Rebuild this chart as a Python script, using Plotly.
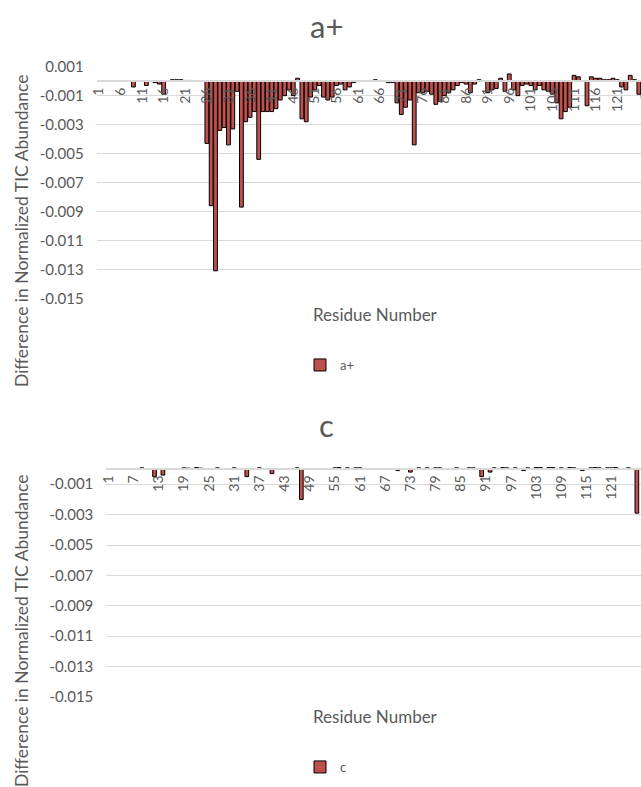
import plotly.graph_objects as go

# ---- data -------------------------------------------------------------
residues = list(range(1, 128))

# a+ ions: difference in normalized TIC abundance per residue (0 = no change)
a_plus = [
    0, 0, 0, 0, 0, 0, 0, 0, -0.0004, 0,                                   # 1-10
    0, -0.0003, 0, -0.0001, -0.0002, -0.0009, 0, 0.0001, 0.0001, 0.0001,   # 11-20
    0.00005, 0.00005, 0.00003, 0.00003, 0, -0.0043, -0.0086, -0.0131, -0.0034, -0.0032,  # 21-30
    -0.0044, -0.0033, -0.0007, -0.0087, -0.0028, -0.0025, -0.0021, -0.0054, -0.0021, -0.0021,  # 31-40
    -0.0021, -0.0019, -0.0013, -0.0010, -0.0006, -0.0010, 0.0002, -0.0026, -0.0028, -0.0011,  # 41-50
    -0.0006, -0.0003, -0.0011, -0.0013, -0.0011, -0.0003, -0.0002, -0.0006, -0.0004, -0.0001,  # 51-60
    0, 0, 0, 0, 0.0001, 0, 0, -0.0001, -0.0001, -0.0015,                  # 61-70
    -0.0023, -0.0018, -0.0013, -0.0044, -0.0008, -0.0008, -0.0007, -0.0009, -0.0016, -0.0014,  # 71-80
    -0.0010, -0.0008, -0.0006, -0.0003, -0.0001, -0.0002, -0.0008, -0.0002, 0.0001, 0.00003,  # 81-90
    -0.0008, -0.0006, -0.0005, 0.0002, -0.0007, 0.0005, -0.0006, -0.0010, -0.0003, -0.0002,  # 91-100
    -0.0003, -0.0006, -0.0003, -0.0006, -0.0007, -0.0009, -0.0015, -0.0026, -0.0021, -0.0018,  # 101-110
    0.0004, 0.0003, 0, -0.0017, 0.0003, 0.0002, 0.0002, 0.0001, 0.0001, 0.0002,  # 111-120
    0.0001, -0.0004, -0.0006, 0.0004, 0.0001, -0.0009, -0.0012,           # 121-127
]

# c ions: difference in normalized TIC abundance per residue (0 = no change)
c_ions = [
    0, 0, 0, 0, 0, 0, 0, 0, 0.00008, 0,                                   # 1-10
    0, -0.0005, 0, -0.0004, 0, 0, 0, 0, 0.00008, 0.00006,                 # 11-20
    0, 0.0001, 0.00006, 0, 0, 0, 0.00008, 0, 0, 0,                        # 21-30
    0.00008, 0, 0, -0.0005, 0, 0, 0.00008, 0, 0, -0.0003,                 # 31-40
    0, 0, 0, 0, 0, 0.00008, -0.0020, 0, 0, 0,                             # 41-50
    0, 0, 0, 0, 0.00008, 0.0001, 0, 0.00008, 0, 0.00008,                  # 51-60
    0.00008, 0, 0, 0, 0, 0, 0, 0, 0, -0.0001,                             # 61-70
    0, 0, -0.0002, 0, 0.00008, 0, 0.00008, 0, 0.00008, 0.00008,           # 71-80
    0, 0, 0, 0.00008, 0, 0, 0.00008, 0.00008, 0, -0.0005,                 # 81-90
    0, -0.0002, 0.00008, 0, 0.0001, 0.00008, 0, 0.00008, 0, -0.0001,      # 91-100
    0.00008, 0, 0.0001, 0.0001, 0, 0.0001, 0.0001, 0, 0.00008, 0,         # 101-110
    0.0001, 0.00008, 0, -0.0001, 0, 0.00008, 0.0001, 0.00008, 0, 0.00008, # 111-120
    0.00008, 0.0001, 0, 0, 0.00008, 0, -0.0029,                           # 121-127
]

a_tick_residues = list(range(1, 127, 5))
c_tick_residues = list(range(1, 128, 6))

y_tick_vals = [0.001, -0.001, -0.003, -0.005, -0.007, -0.009, -0.011, -0.013, -0.015]
y_tick_text = ["0.001", "-0.001", "-0.003", "-0.005", "-0.007", "-0.009", "-0.011", "-0.013", "-0.015"]

# ---- page geometry (pixels -> paper fractions) --------------------------
W, H = 641, 787
FONT = "Lato, Carlito, Calibri, sans-serif"
GREY = "#595959"
GRID = "#D9D9D9"
BAR_FILL = "#C0504D"


def fx(px):
    return px / W


def fy(py):
    return 1 - py / H


# plot areas (top / bottom)
A_TOP, A_BOT, A_LEFT = 66.7, 298.3, 96.7
C_TOP, C_BOT, C_LEFT = 466.0, 697.0, 106.3
A_YR = [-0.015, 0.001]
C_YR = [-0.015, 0.0002]
A_PITCH, C_PITCH = 4.32, 4.194


def zero_position(top, bot, yr):
    frac = (0 - yr[0]) / (yr[1] - yr[0])
    return fy(bot) + frac * (fy(top) - fy(bot))


def nonzero(values):
    # residues without any change get no bar at all
    return [v if v != 0 else None for v in values]


bar_marker = dict(color=BAR_FILL, line=dict(color="black", width=1))

fig = go.Figure()

fig.add_trace(go.Bar(x=residues, y=nonzero(a_plus), name="a+", marker=bar_marker,
                     xaxis="x", yaxis="y", legend="legend"))
fig.add_trace(go.Bar(x=residues, y=nonzero(c_ions), name="c", marker=bar_marker,
                     xaxis="x2", yaxis="y2", legend="legend2"))


def x_axis(left, pitch, ticks, top, bot, yr):
    return dict(
        domain=[fx(left), 1],
        range=[0.5, 0.5 + (W - left) / pitch],
        anchor="free",
        position=zero_position(top, bot, yr),
        tickmode="array",
        tickvals=ticks,
        ticktext=[str(t) for t in ticks],
        tickangle=-90,
        tickfont=dict(family=FONT, size=14, color=GREY),
        showline=True, linecolor=GRID, linewidth=1.5,
        showgrid=False, zeroline=False, ticks="",
        automargin=False, fixedrange=True,
    )


def y_axis(top, bot, yr, xname):
    return dict(
        domain=[fy(bot), fy(top)],
        range=yr,
        anchor=xname,
        tickmode="array",
        tickvals=y_tick_vals,
        ticktext=y_tick_text,
        tickfont=dict(family=FONT, size=15, color=GREY),
        showgrid=True, gridcolor=GRID, gridwidth=1,
        showline=False, zeroline=False, ticks="",
        ticklabelstandoff=12,
        automargin=False, fixedrange=True,
    )


annotations = []
for text, cy in (("a+", 26), ("c", 425)):
    annotations.append(dict(text=text, x=fx(326), y=fy(cy), xref="paper", yref="paper",
                            xanchor="center", yanchor="middle", showarrow=False,
                            font=dict(family=FONT, size=31, color=GREY)))
for cy in (231, 631):
    annotations.append(dict(text="Difference in Normalized TIC Abundance", x=fx(21), y=fy(cy),
                            xref="paper", yref="paper", xanchor="center", yanchor="middle",
                            textangle=-90, showarrow=False,
                            font=dict(family=FONT, size=17.5, color=GREY)))
for cy in (315, 716):
    annotations.append(dict(text="Residue Number", x=fx(375), y=fy(cy),
                            xref="paper", yref="paper", xanchor="center", yanchor="middle",
                            showarrow=False, font=dict(family=FONT, size=17, color=GREY)))

legend_style = dict(xanchor="center", yanchor="middle", bgcolor="rgba(0,0,0,0)",
                    font=dict(family=FONT, size=13, color=GREY), itemwidth=30)

fig.update_layout(
    width=W, height=H,
    margin=dict(l=0, r=0, t=0, b=0),
    paper_bgcolor="white", plot_bgcolor="white",
    bargap=0.12,
    showlegend=True,
    xaxis=x_axis(A_LEFT, A_PITCH, a_tick_residues, A_TOP, A_BOT, A_YR),
    yaxis=y_axis(A_TOP, A_BOT, A_YR, "x"),
    xaxis2=x_axis(C_LEFT, C_PITCH, c_tick_residues, C_TOP, C_BOT, C_YR),
    yaxis2=y_axis(C_TOP, C_BOT, C_YR, "x2"),
    legend=dict(x=fx(330), y=fy(365), **legend_style),
    legend2=dict(x=fx(326), y=fy(767), **legend_style),
    annotations=annotations,
    font=dict(family=FONT, color=GREY),
)

fig.write_html("out.html")
